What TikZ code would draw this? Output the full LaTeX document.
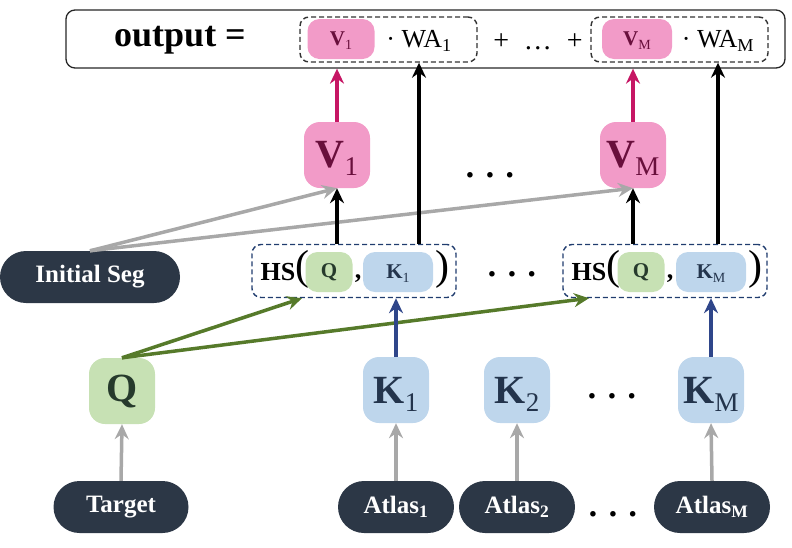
\documentclass[tikz,border=0pt]{standalone}
\usepackage{fontspec}
\setmainfont{Liberation Serif}
\usetikzlibrary{arrows.meta, positioning}

\definecolor{vpink}{RGB}{242,155,200}
\definecolor{vtext}{RGB}{105,15,60}
\definecolor{qgreen}{RGB}{199,225,180}
\definecolor{qtext}{RGB}{38,58,44}
\definecolor{kblue}{RGB}{190,214,236}
\definecolor{ktext}{RGB}{35,52,76}
\definecolor{darkbox}{RGB}{44,55,70}
\definecolor{arrgray}{RGB}{168,168,168}
\definecolor{arrgreen}{RGB}{86,122,42}
\definecolor{arrblue}{RGB}{47,70,138}
\definecolor{arrpink}{RGB}{198,22,100}
\definecolor{hsblue}{RGB}{32,60,110}

% lowered subscripts that do not change the box height
\newcommand{\bigsub}[1]{\raisebox{-8pt}[0pt][0pt]{\fontsize{27}{27}\selectfont\mdseries #1}}
\newcommand{\smallsub}[1]{\raisebox{-4pt}[0pt][0pt]{\fontsize{14}{14}\selectfont\mdseries #1}}

\begin{document}
\begin{tikzpicture}[x=1pt, y=-1pt, >={Stealth[length=15pt, width=14pt, inset=5pt]}, line join=round]
	\tikzstyle{bignode}=[rounded corners=16pt, minimum width=66pt, minimum height=66pt, inner sep=0pt, font=\fontsize{40}{40}\selectfont\bfseries]
	\tikzstyle{vnode}=[bignode, fill=vpink, text=vtext]
	\tikzstyle{qnode}=[bignode, fill=qgreen, text=qtext]
	\tikzstyle{knode}=[bignode, fill=kblue, text=ktext]
	\tikzstyle{darknode}=[rounded corners=26pt, fill=darkbox, text=white, minimum height=52pt, inner sep=0pt, font=\fontsize{25}{25}\selectfont\bfseries]
	\tikzstyle{smallbox}=[rounded corners=12pt, minimum height=40pt, inner sep=0pt, font=\fontsize{21}{21}\selectfont\bfseries]
	\tikzstyle{hsbox}=[draw=hsblue, dash pattern=on 5pt off 3pt, line width=1.4pt, rounded corners=9pt, minimum width=204pt, minimum height=53pt]
	\tikzstyle{grpbox}=[draw=black!80, dash pattern=on 5pt off 3pt, line width=1.4pt, rounded corners=9pt, minimum width=177pt, minimum height=45pt]
	\tikzstyle{hstext}=[inner sep=0pt, font=\fontsize{26}{26}\selectfont\bfseries]
	\tikzstyle{paren}=[inner sep=0pt, font=\fontsize{42}{42}\selectfont]
	\tikzstyle{dots}=[inner sep=0pt, font=\fontsize{34}{34}\selectfont\bfseries]
	\tikzstyle{plain}=[inner sep=0pt, font=\fontsize{26}{26}\selectfont]
	\tikzstyle{grayarrow}=[->, line width=3.5pt, arrgray]
	\tikzstyle{greenarrow}=[->, line width=3.5pt, arrgreen]
	\tikzstyle{bluearrow}=[->, line width=3.5pt, arrblue]
	\tikzstyle{blackarrow}=[->, line width=3.5pt, black]
	\tikzstyle{pinkarrow}=[->, line width=3.5pt, arrpink]

	\useasboundingbox (0,0) rectangle (792,547);

	% output row
	\node[draw=black!85, line width=1.3pt, rounded corners=9pt, minimum width=719pt, minimum height=58pt] (out) at (425.5,39) {};
	\node[inner sep=0pt, font=\fontsize{36}{36}\selectfont\bfseries] (outlabel) at (180,40) {output =};
	\node[grpbox] (grp1) at (388.5,39.5) {};
	\node[smallbox, fill=vpink, text=vtext, minimum width=67pt] (v1s) at (341,39) {V\smallsub{1}};
	\node[plain] (wa1) at (419,41) {· WA\textsubscript{1}};
	\node[plain, font=\fontsize{28}{28}\selectfont] (plus) at (538,42) {+\; …\; +};
	\node[grpbox] (grp2) at (679.5,39.5) {};
	\node[smallbox, fill=vpink, text=vtext, minimum width=70pt] (vMs) at (637,39) {V\smallsub{M}};
	\node[plain] (waM) at (718,41) {· WA\textsubscript{M}};

	% values
	\node[vnode] (v1) at (337,155) {V\bigsub{1}};
	\node[dots] (vdots) at (490,179) {· · ·};
	\node[vnode] (vM) at (633,155) {V\bigsub{M}};

	% similarity
	\node[darknode, minimum width=180pt] (init) at (90,277) {Initial Seg};
	\node[hsbox] (hs1) at (354,271) {};
	\node[hstext] (hs1l) at (278,272) {HS};
	\node[paren] (hs1o) at (302,269) {(};
	\node[smallbox, fill=qgreen, text=qtext, minimum width=47pt] (hs1q) at (329,272) {Q};
	\node[hstext] (hs1c) at (358,279) {,};
	\node[smallbox, fill=kblue, text=ktext, minimum width=70pt] (hs1k) at (398,272) {K\smallsub{1}};
	\node[paren] (hs1e) at (442,269) {)};
	\node[dots] (hsdots) at (512,278) {· · ·};
	\node[hsbox] (hs2) at (665,271) {};
	\node[hstext] (hs2l) at (589,272) {HS};
	\node[paren] (hs2o) at (613,269) {(};
	\node[smallbox, fill=qgreen, text=qtext, minimum width=47pt] (hs2q) at (641,272) {Q};
	\node[hstext] (hs2c) at (670,279) {,};
	\node[smallbox, fill=kblue, text=ktext, minimum width=70pt] (hs2k) at (711,272) {K\smallsub{M}};
	\node[paren] (hs2e) at (755,269) {)};

	% queries and keys
	\node[qnode] (q) at (122,391) {Q};
	\node[knode] (k1) at (396,390) {K\bigsub{1}};
	\node[knode] (k2) at (517,390) {K\bigsub{2}};
	\node[dots] (kdots) at (612,400) {· · ·};
	\node[knode] (kM) at (711,390) {K\bigsub{M}};

	% inputs
	\node[darknode, minimum width=135pt] (target) at (121,507) {Target};
	\node[darknode, minimum width=116pt] (atlas1) at (396,507) {Atlas\textsubscript{1}};
	\node[darknode, minimum width=116pt] (atlas2) at (517,507) {Atlas\textsubscript{2}};
	\node[dots] (adots) at (613,518) {· · ·};
	\node[darknode, minimum width=116pt] (atlasM) at (712,507) {Atlas\textsubscript{M}};

	\draw[grayarrow] (target.north) -- (q.south);
	\foreach \n in {1,2,M}
		\draw[grayarrow] (atlas\n.north) -- (k\n.south);
	\draw[greenarrow] (q.north) -- (hs1o |- hs1.south);
	\draw[greenarrow] (q.north) -- (hs2l |- hs2.south);
	\draw[bluearrow] (k1.north) -- (k1.north |- hs1.south);
	\draw[bluearrow] (kM.north) -- (kM.north |- hs2.south);
	\draw[grayarrow] (init.north) -- (v1.south);
	\draw[grayarrow] (init.north) -- (vM.south);
	\draw[blackarrow] (v1.south |- hs1.north) -- (v1.south);
	\draw[blackarrow] (vM.south |- hs2.north) -- (vM.south);
	\draw[blackarrow] (wa1 |- hs1.north) -- (wa1 |- grp1.south);
	\draw[blackarrow] (waM |- hs2.north) -- (waM |- grp2.south);
	\draw[pinkarrow] (v1.north) -- (v1.north |- out.south);
	\draw[pinkarrow] (vM.north) -- (vM.north |- out.south);
\end{tikzpicture}
\end{document}
